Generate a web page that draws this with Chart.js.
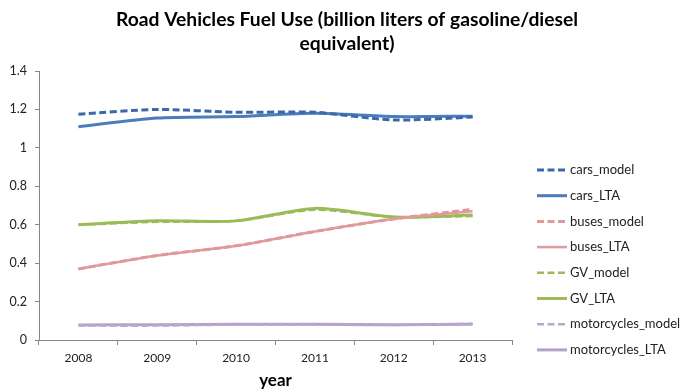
<!DOCTYPE html>
<html>
<head>
<meta charset="utf-8">
<script src="https://cdn.jsdelivr.net/npm/chart.js@4.4.1/dist/chart.umd.min.js"></script>
<style>
    body { margin: 0; background: #fff; }
    #wrap { position: relative; width: 682px; height: 392px; }
</style>
</head>
<body>
<div id="wrap"><canvas id="canvas"></canvas></div>
<script>
const years = ['2008', '2009', '2010', '2011', '2012', '2013'];

const carsModel = [1.175, 1.200, 1.185, 1.185, 1.145, 1.160];
const carsLTA = [1.110, 1.155, 1.163, 1.180, 1.163, 1.165];
const busesModel = [0.370, 0.440, 0.490, 0.565, 0.630, 0.680];
const busesLTA = [0.370, 0.440, 0.490, 0.565, 0.630, 0.670];
const gvModel = [0.600, 0.615, 0.620, 0.678, 0.640, 0.645];
const gvLTA = [0.600, 0.620, 0.620, 0.685, 0.640, 0.650];
const motoModel = [0.075, 0.075, 0.080, 0.080, 0.078, 0.085];
const motoLTA = [0.078, 0.080, 0.082, 0.082, 0.080, 0.082];

const titleLines = ['Road Vehicles Fuel Use (billion liters of gasoline/diesel', 'equivalent)'];

const FONT = 'Lato, "Open Sans", sans-serif';
const axisGray = '#868686';

const series = (label, data, color, dashed, width) => ({
    label,
    data,
    borderColor: color,
    backgroundColor: color,
    borderWidth: width,
    borderDash: dashed ? [7, 3.5] : [],
    pointRadius: 0,
    tension: 0.25,
    fill: false,
});

// title across the whole canvas, not just the plot
const titlePlugin = {
    id: 'wideTitle',
    afterDraw(chart) {
        const { ctx } = chart;
        ctx.save();
        ctx.font = `bold 19.3px ${FONT}`;
        ctx.fillStyle = '#000';
        ctx.textAlign = 'center';
        ctx.textBaseline = 'middle';
        titleLines.forEach((line, i) => ctx.fillText(line, 347, 20 + i * 23.5));
        ctx.restore();
    },
};

// line-sample legend down the right side
const legendPlugin = {
    id: 'sideLegend',
    afterDraw(chart) {
        const { ctx } = chart;
        ctx.save();
        ctx.font = `13px ${FONT}`;
        ctx.textBaseline = 'middle';
        ctx.textAlign = 'left';
        chart.data.datasets.forEach((ds, i) => {
            const y = 170 + i * 25.7;
            ctx.strokeStyle = ds.borderColor;
            ctx.lineWidth = ds.borderWidth;
            ctx.setLineDash(ds.borderDash);
            ctx.beginPath();
            ctx.moveTo(537, y);
            ctx.lineTo(567, y);
            ctx.stroke();
            ctx.setLineDash([]);
            ctx.fillStyle = '#222';
            ctx.fillText(ds.label, 570, y);
        });
        ctx.restore();
    },
};

const chart = new Chart(document.getElementById('canvas'), {
    type: 'line',
    data: {
        labels: years,
        datasets: [
            series('cars_model', carsModel, '#3a68a8', true, 3),
            series('cars_LTA', carsLTA, '#4a7ebb', false, 3),
            series('buses_model', busesModel, '#e09999', true, 3),
            series('buses_LTA', busesLTA, '#e39a9a', false, 2.5),
            series('GV_model', gvModel, '#9bbb59', true, 2.5),
            series('GV_LTA', gvLTA, '#9bbb59', false, 3),
            series('motorcycles_model', motoModel, '#b7a8cc', true, 2.5),
            series('motorcycles_LTA', motoLTA, '#b3a2c7', false, 3),
        ],
    },
    plugins: [titlePlugin, legendPlugin],
    options: {
        responsive: true,
        maintainAspectRatio: false,
        animation: false,
        layout: {
            padding: { top: 71, right: 170, left: 0, bottom: 0 },
        },
        plugins: {
            legend: { display: false },
            tooltip: { enabled: false },
            title: { display: false },
        },
        scales: {
            x: {
                offset: true,
                afterFit: (scale) => { scale.height = 52; },
                grid: {
                    offset: true,
                    drawOnChartArea: false,
                    tickLength: 5,
                    color: axisGray,
                },
                border: { color: axisGray },
                ticks: {
                    color: '#222',
                    padding: 6,
                    font: { family: FONT, size: 12 },
                },
                title: {
                    display: true,
                    text: 'year',
                    color: '#000',
                    padding: { top: 0, bottom: 1 },
                    font: { family: FONT, size: 17, weight: 'bold' },
                },
            },
            y: {
                min: 0,
                max: 1.4,
                afterFit: (scale) => { scale.width = 39; },
                grid: {
                    drawOnChartArea: false,
                    tickLength: 4,
                    color: axisGray,
                },
                border: { color: axisGray },
                ticks: {
                    stepSize: 0.2,
                    color: '#222',
                    padding: 8,
                    font: { family: FONT, size: 12.5 },
                    callback: (v) => String(Math.round(v * 10) / 10),
                },
            },
        },
    },
});
</script>
</body>
</html>
